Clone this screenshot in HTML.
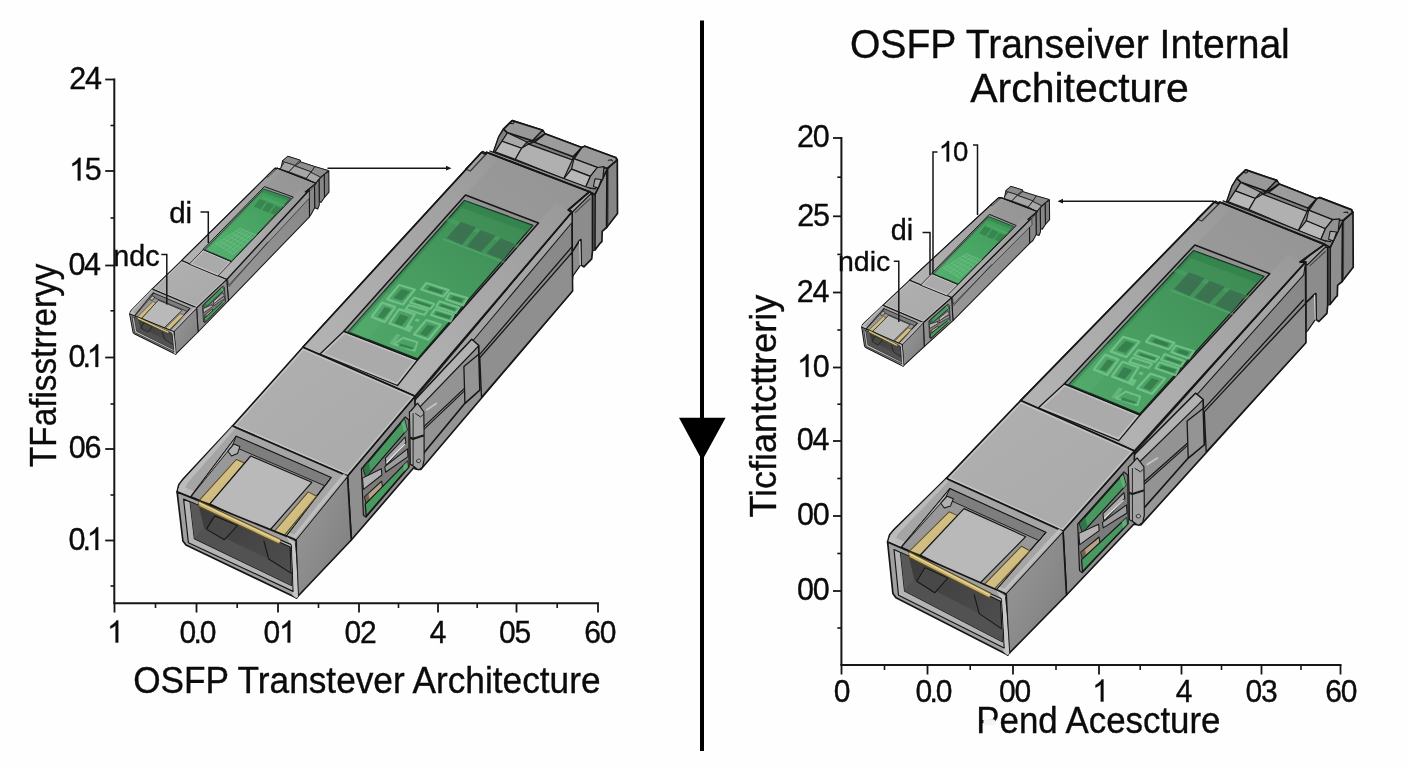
<!DOCTYPE html>
<html><head><meta charset="utf-8"><title>OSFP Transceiver Internal Architecture</title>
<style>
html,body{margin:0;padding:0;background:#fefefe;}
body{width:1408px;height:768px;overflow:hidden;font-family:"Liberation Sans", sans-serif;}
svg{display:block;will-change:transform;}
text{font-family:"Liberation Sans", sans-serif;fill:#0b0b0b;stroke:#0b0b0b;stroke-width:0.35px;}
</style></head><body>
<svg width="1408" height="768" viewBox="0 0 1408 768">
<defs>

<linearGradient id="gTop" x1="0" y1="1" x2="1" y2="0"><stop offset="0" stop-color="#aeaeae"/><stop offset="0.5" stop-color="#9c9c9c"/><stop offset="1" stop-color="#949494"/></linearGradient>
<linearGradient id="gSide" x1="0" y1="1" x2="1" y2="0"><stop offset="0" stop-color="#989898"/><stop offset="1" stop-color="#878787"/></linearGradient>
<linearGradient id="gFront" x1="0" y1="0" x2="1" y2="1"><stop offset="0" stop-color="#b0b0b0"/><stop offset="1" stop-color="#a9a9a9"/></linearGradient>
<linearGradient id="gCside" x1="0" y1="0" x2="1" y2="1"><stop offset="0" stop-color="#9a9a9a"/><stop offset="1" stop-color="#7c7c7c"/></linearGradient>
<linearGradient id="gGreen" x1="0" y1="1" x2="1" y2="0"><stop offset="0" stop-color="#51a86a"/><stop offset="0.5" stop-color="#479b5f"/><stop offset="1" stop-color="#3a8751"/></linearGradient>
<linearGradient id="gGreenS" x1="0" y1="1" x2="1" y2="0"><stop offset="0" stop-color="#56b070"/><stop offset="0.5" stop-color="#4aa664"/><stop offset="1" stop-color="#3f9a58"/></linearGradient>
<linearGradient id="gFade" x1="0" y1="1" x2="1" y2="0"><stop offset="0" stop-color="#b6b6b6" stop-opacity="0.8"/><stop offset="0.55" stop-color="#b0b0b0" stop-opacity="0.55"/><stop offset="1" stop-color="#a8a8a8" stop-opacity="0.15"/></linearGradient>
<linearGradient id="gDark" x1="0" y1="0" x2="1" y2="1"><stop offset="0" stop-color="#3a3a3a"/><stop offset="1" stop-color="#505050"/></linearGradient>
<linearGradient id="gGold" x1="0" y1="0" x2="1" y2="1"><stop offset="0" stop-color="#dccb92"/><stop offset="1" stop-color="#c6b071"/></linearGradient>

</defs>
<rect width="1408" height="768" fill="#fefefe"/>
<rect x="700" y="20.5" width="4" height="730.5" fill="#000"/>
<polygon points="679,417.8 725.6,417.8 702.2,460.6" fill="#000"/>
<line x1="114.3" y1="78.6" x2="114.3" y2="603.3" stroke="#161616" stroke-width="2.00"/>
<line x1="113.3" y1="603.3" x2="599.0" y2="603.3" stroke="#161616" stroke-width="2.00"/>
<line x1="105.2" y1="79.5" x2="114.3" y2="79.5" stroke="#161616" stroke-width="1.80"/>
<g transform="translate(69.29 88.90) scale(1 1.030)"><text x="0.00" y="0" font-size="30.5">2</text><text x="15.74" y="0" font-size="30.5">4</text></g>
<line x1="105.2" y1="171.0" x2="114.3" y2="171.0" stroke="#161616" stroke-width="1.80"/>
<g transform="translate(69.09 180.40) scale(1 1.030)"><path d="M763 0H583V1147Q518 1085 412.5 1023T223 930V1104Q373 1174.5 485.5 1275T645 1470H763Z" transform="translate(0.00 0) scale(0.01489 -0.01489)" fill="#0b0b0b" stroke="#0b0b0b" stroke-width="0.35" vector-effect="non-scaling-stroke"/><text x="15.74" y="0" font-size="30.5">5</text></g>
<line x1="105.2" y1="265.5" x2="114.3" y2="265.5" stroke="#161616" stroke-width="1.80"/>
<g transform="translate(68.39 274.90) scale(1 1.030)"><text x="0.00" y="0" font-size="30.5">0</text><text x="15.74" y="0" font-size="30.5">4</text></g>
<line x1="105.2" y1="357.5" x2="114.3" y2="357.5" stroke="#161616" stroke-width="1.80"/>
<g transform="translate(68.40 366.90) scale(1 1.030)"><text x="0.00" y="0" font-size="30.5">0</text><text x="14.11" y="0" font-size="30.5">.</text><path d="M763 0H583V1147Q518 1085 412.5 1023T223 930V1104Q373 1174.5 485.5 1275T645 1470H763Z" transform="translate(18.42 0) scale(0.01489 -0.01489)" fill="#0b0b0b" stroke="#0b0b0b" stroke-width="0.35" vector-effect="non-scaling-stroke"/></g>
<line x1="105.2" y1="449.0" x2="114.3" y2="449.0" stroke="#161616" stroke-width="1.80"/>
<g transform="translate(68.85 458.40) scale(1 1.030)"><text x="0.00" y="0" font-size="30.5">0</text><text x="15.74" y="0" font-size="30.5">6</text></g>
<line x1="105.2" y1="540.5" x2="114.3" y2="540.5" stroke="#161616" stroke-width="1.80"/>
<g transform="translate(68.40 549.90) scale(1 1.030)"><text x="0.00" y="0" font-size="30.5">0</text><text x="14.11" y="0" font-size="30.5">.</text><path d="M763 0H583V1147Q518 1085 412.5 1023T223 930V1104Q373 1174.5 485.5 1275T645 1470H763Z" transform="translate(18.42 0) scale(0.01489 -0.01489)" fill="#0b0b0b" stroke="#0b0b0b" stroke-width="0.35" vector-effect="non-scaling-stroke"/></g>
<line x1="110.5" y1="125.5" x2="114.3" y2="125.5" stroke="#161616" stroke-width="1.60"/>
<line x1="110.5" y1="218.0" x2="114.3" y2="218.0" stroke="#161616" stroke-width="1.60"/>
<line x1="110.5" y1="310.8" x2="114.3" y2="310.8" stroke="#161616" stroke-width="1.60"/>
<line x1="110.5" y1="404.0" x2="114.3" y2="404.0" stroke="#161616" stroke-width="1.60"/>
<line x1="110.5" y1="495.0" x2="114.3" y2="495.0" stroke="#161616" stroke-width="1.60"/>
<line x1="110.5" y1="586.0" x2="114.3" y2="586.0" stroke="#161616" stroke-width="1.60"/>
<line x1="114.5" y1="603.3" x2="114.5" y2="612.5" stroke="#161616" stroke-width="1.80"/>
<g transform="translate(107.07 642.60) scale(1 1.030)"><path d="M763 0H583V1147Q518 1085 412.5 1023T223 930V1104Q373 1174.5 485.5 1275T645 1470H763Z" transform="translate(0.00 0) scale(0.01465 -0.01465)" fill="#0b0b0b" stroke="#0b0b0b" stroke-width="0.35" vector-effect="non-scaling-stroke"/></g>
<line x1="196.5" y1="603.3" x2="196.5" y2="612.5" stroke="#161616" stroke-width="1.80"/>
<g transform="translate(179.55 642.60) scale(1 1.030)"><text x="0.00" y="0" font-size="30.0">0</text><text x="13.88" y="0" font-size="30.0">.</text><text x="20.22" y="0" font-size="30.0">0</text></g>
<line x1="278.0" y1="603.3" x2="278.0" y2="612.5" stroke="#161616" stroke-width="1.80"/>
<g transform="translate(263.58 642.60) scale(1 1.030)"><text x="0.00" y="0" font-size="30.0">0</text><path d="M763 0H583V1147Q518 1085 412.5 1023T223 930V1104Q373 1174.5 485.5 1275T645 1470H763Z" transform="translate(15.48 0) scale(0.01465 -0.01465)" fill="#0b0b0b" stroke="#0b0b0b" stroke-width="0.35" vector-effect="non-scaling-stroke"/></g>
<line x1="359.0" y1="603.3" x2="359.0" y2="612.5" stroke="#161616" stroke-width="1.80"/>
<g transform="translate(344.58 642.60) scale(1 1.030)"><text x="0.00" y="0" font-size="30.0">0</text><text x="15.48" y="0" font-size="30.0">2</text></g>
<line x1="438.0" y1="603.3" x2="438.0" y2="612.5" stroke="#161616" stroke-width="1.80"/>
<g transform="translate(429.75 642.60) scale(1 1.030)"><text x="0.00" y="0" font-size="30.0">4</text></g>
<line x1="516.5" y1="603.3" x2="516.5" y2="612.5" stroke="#161616" stroke-width="1.80"/>
<g transform="translate(498.96 642.60) scale(1 1.030)"><text x="0.00" y="0" font-size="30.0">0</text><text x="15.48" y="0" font-size="30.0">5</text></g>
<line x1="598.0" y1="603.3" x2="598.0" y2="612.5" stroke="#161616" stroke-width="1.80"/>
<g transform="translate(584.24 642.60) scale(1 1.030)"><text x="0.00" y="0" font-size="30.0">6</text><text x="15.48" y="0" font-size="30.0">0</text></g>
<line x1="155.5" y1="603.3" x2="155.5" y2="608.0" stroke="#161616" stroke-width="1.60"/>
<line x1="237.2" y1="603.3" x2="237.2" y2="608.0" stroke="#161616" stroke-width="1.60"/>
<line x1="318.5" y1="603.3" x2="318.5" y2="608.0" stroke="#161616" stroke-width="1.60"/>
<line x1="398.5" y1="603.3" x2="398.5" y2="608.0" stroke="#161616" stroke-width="1.60"/>
<line x1="477.2" y1="603.3" x2="477.2" y2="608.0" stroke="#161616" stroke-width="1.60"/>
<line x1="557.2" y1="603.3" x2="557.2" y2="608.0" stroke="#161616" stroke-width="1.60"/>
<text x="133.2" y="692.5" font-size="37.0" text-anchor="start" textLength="467.3" lengthAdjust="spacingAndGlyphs" >OSFP Transtever Architecture</text>
<text x="55.5" y="467.0" font-size="36.6" text-anchor="start" textLength="203.5" lengthAdjust="spacingAndGlyphs" transform="rotate(-90 55.5 467.0)" >TFafisstrreryy</text>
<line x1="841.4" y1="137.1" x2="841.4" y2="665.0" stroke="#161616" stroke-width="2.00"/>
<line x1="840.4" y1="665.0" x2="1341.5" y2="665.0" stroke="#161616" stroke-width="2.00"/>
<line x1="833.0" y1="138.0" x2="841.4" y2="138.0" stroke="#161616" stroke-width="1.80"/>
<g transform="translate(797.09 147.40) scale(1 1.030)"><text x="0.00" y="0" font-size="30.5">2</text><text x="15.74" y="0" font-size="30.5">0</text></g>
<line x1="833.0" y1="216.3" x2="841.4" y2="216.3" stroke="#161616" stroke-width="1.80"/>
<g transform="translate(797.19 225.70) scale(1 1.030)"><text x="0.00" y="0" font-size="30.5">2</text><text x="15.74" y="0" font-size="30.5">5</text></g>
<line x1="833.0" y1="292.5" x2="841.4" y2="292.5" stroke="#161616" stroke-width="1.80"/>
<g transform="translate(796.79 301.90) scale(1 1.030)"><text x="0.00" y="0" font-size="30.5">2</text><text x="15.74" y="0" font-size="30.5">4</text></g>
<line x1="833.0" y1="367.5" x2="841.4" y2="367.5" stroke="#161616" stroke-width="1.80"/>
<g transform="translate(797.09 376.90) scale(1 1.030)"><path d="M763 0H583V1147Q518 1085 412.5 1023T223 930V1104Q373 1174.5 485.5 1275T645 1470H763Z" transform="translate(0.00 0) scale(0.01489 -0.01489)" fill="#0b0b0b" stroke="#0b0b0b" stroke-width="0.35" vector-effect="non-scaling-stroke"/><text x="15.74" y="0" font-size="30.5">0</text></g>
<line x1="833.0" y1="441.0" x2="841.4" y2="441.0" stroke="#161616" stroke-width="1.80"/>
<g transform="translate(796.79 450.40) scale(1 1.030)"><text x="0.00" y="0" font-size="30.5">0</text><text x="15.74" y="0" font-size="30.5">4</text></g>
<line x1="833.0" y1="516.0" x2="841.4" y2="516.0" stroke="#161616" stroke-width="1.80"/>
<g transform="translate(797.09 525.40) scale(1 1.030)"><text x="0.00" y="0" font-size="30.5">0</text><text x="15.74" y="0" font-size="30.5">0</text></g>
<line x1="833.0" y1="591.0" x2="841.4" y2="591.0" stroke="#161616" stroke-width="1.80"/>
<g transform="translate(797.09 600.40) scale(1 1.030)"><text x="0.00" y="0" font-size="30.5">0</text><text x="15.74" y="0" font-size="30.5">0</text></g>
<line x1="837.3" y1="177.2" x2="841.4" y2="177.2" stroke="#161616" stroke-width="1.60"/>
<line x1="837.3" y1="254.4" x2="841.4" y2="254.4" stroke="#161616" stroke-width="1.60"/>
<line x1="837.3" y1="330.0" x2="841.4" y2="330.0" stroke="#161616" stroke-width="1.60"/>
<line x1="837.3" y1="404.2" x2="841.4" y2="404.2" stroke="#161616" stroke-width="1.60"/>
<line x1="837.3" y1="478.5" x2="841.4" y2="478.5" stroke="#161616" stroke-width="1.60"/>
<line x1="837.3" y1="553.5" x2="841.4" y2="553.5" stroke="#161616" stroke-width="1.60"/>
<line x1="837.3" y1="628.0" x2="841.4" y2="628.0" stroke="#161616" stroke-width="1.60"/>
<line x1="841.5" y1="665.0" x2="841.5" y2="674.5" stroke="#161616" stroke-width="1.80"/>
<g transform="translate(833.66 701.60) scale(1 1.030)"><text x="0.00" y="0" font-size="30.0">0</text></g>
<line x1="927.5" y1="665.0" x2="927.5" y2="674.5" stroke="#161616" stroke-width="1.80"/>
<g transform="translate(915.55 701.60) scale(1 1.030)"><text x="0.00" y="0" font-size="30.0">0</text><text x="13.88" y="0" font-size="30.0">.</text><text x="20.22" y="0" font-size="30.0">0</text></g>
<line x1="1013.0" y1="665.0" x2="1013.0" y2="674.5" stroke="#161616" stroke-width="1.80"/>
<g transform="translate(998.92 701.60) scale(1 1.030)"><text x="0.00" y="0" font-size="30.0">0</text><text x="15.48" y="0" font-size="30.0">0</text></g>
<line x1="1099.0" y1="665.0" x2="1099.0" y2="674.5" stroke="#161616" stroke-width="1.80"/>
<g transform="translate(1092.27 701.60) scale(1 1.030)"><path d="M763 0H583V1147Q518 1085 412.5 1023T223 930V1104Q373 1174.5 485.5 1275T645 1470H763Z" transform="translate(0.00 0) scale(0.01465 -0.01465)" fill="#0b0b0b" stroke="#0b0b0b" stroke-width="0.35" vector-effect="non-scaling-stroke"/></g>
<line x1="1181.5" y1="665.0" x2="1181.5" y2="674.5" stroke="#161616" stroke-width="1.80"/>
<g transform="translate(1175.75 701.60) scale(1 1.030)"><text x="0.00" y="0" font-size="30.0">4</text></g>
<line x1="1261.5" y1="665.0" x2="1261.5" y2="674.5" stroke="#161616" stroke-width="1.80"/>
<g transform="translate(1245.49 701.60) scale(1 1.030)"><text x="0.00" y="0" font-size="30.0">0</text><text x="15.48" y="0" font-size="30.0">3</text></g>
<line x1="1340.5" y1="665.0" x2="1340.5" y2="674.5" stroke="#161616" stroke-width="1.80"/>
<g transform="translate(1325.24 701.60) scale(1 1.030)"><text x="0.00" y="0" font-size="30.0">6</text><text x="15.48" y="0" font-size="30.0">0</text></g>
<line x1="884.5" y1="665.0" x2="884.5" y2="670.0" stroke="#161616" stroke-width="1.60"/>
<line x1="970.2" y1="665.0" x2="970.2" y2="670.0" stroke="#161616" stroke-width="1.60"/>
<line x1="1056.0" y1="665.0" x2="1056.0" y2="670.0" stroke="#161616" stroke-width="1.60"/>
<line x1="1140.2" y1="665.0" x2="1140.2" y2="670.0" stroke="#161616" stroke-width="1.60"/>
<line x1="1221.5" y1="665.0" x2="1221.5" y2="670.0" stroke="#161616" stroke-width="1.60"/>
<line x1="1301.0" y1="665.0" x2="1301.0" y2="670.0" stroke="#161616" stroke-width="1.60"/>
<text x="976.3" y="732.5" font-size="36.5" text-anchor="start" textLength="244.2" lengthAdjust="spacingAndGlyphs" >Pend Acescture</text>
<rect x="983.4" y="719.3" width="11.8" height="6" rx="2" fill="#f3f3f3"/>
<text x="775.7" y="517.6" font-size="36.3" text-anchor="start" textLength="222.8" lengthAdjust="spacingAndGlyphs" transform="rotate(-90 775.7 517.6)" >Ticfiantcttreriy</text>
<text x="850.0" y="58.4" font-size="40.7" text-anchor="start" textLength="439.8" lengthAdjust="spacingAndGlyphs" >OSFP Transeiver Internal</text>
<text x="970.2" y="102.2" font-size="41.2" text-anchor="start" textLength="218.6" lengthAdjust="spacingAndGlyphs" >Architecture</text>
<!-- module SL -->
<g stroke-linejoin="round" stroke-linecap="round">
<polygon points="324.2,174.1 328.8,171.0 329.0,192.1 324.5,197.3" fill="#7d7d7d" stroke="#161616" stroke-width="1.05"/>
<polygon points="319.0,179.1 324.2,174.1 324.5,197.3 321.0,202.5 319.3,201.2" fill="#868686" stroke="#161616" stroke-width="1.05"/>
<polygon points="314.5,184.0 319.0,179.1 319.3,205.1 317.7,209.0 314.7,207.7" fill="#7e7e7e" stroke="#161616" stroke-width="1.05"/>
<polygon points="309.2,189.8 314.5,184.0 314.7,207.7 311.2,214.2 309.5,216.8" fill="#878787" stroke="#161616" stroke-width="1.05"/>
<polygon points="307.3,190.1 314.5,183.6 315.4,184.9 309.6,191.0" fill="#a2a2a2" stroke="#161616" stroke-width="0.60"/>
<polygon points="280.6,169.3 282.6,160.8 287.8,156.3 300.1,160.2 300.8,162.1 315.1,166.7 328.1,170.6 328.8,171.2 324.2,174.1 319.0,179.1 315.1,183.6 278.0,168.6" fill="#7c7c7c" stroke="#161616" stroke-width="1.05"/>
<polygon points="282.6,160.8 287.8,156.3 300.1,160.2 294.9,165.4 284.5,162.1" fill="#8c8c8c" stroke="#161616" stroke-width="0.73"/>
<polygon points="281.9,166.0 284.5,162.1 294.9,165.4 289.1,171.9 280.6,169.3" fill="#a6a6a6" stroke="#161616" stroke-width="0.73"/>
<polygon points="300.8,162.1 315.1,166.7 311.2,171.9 295.6,166.0" fill="#909090" stroke="#161616" stroke-width="0.73"/>
<polygon points="294.9,166.0 311.2,171.9 306.6,178.4 289.1,171.9" fill="#a6a6a6" stroke="#161616" stroke-width="0.73"/>
<polygon points="315.1,166.7 328.1,170.6 324.2,174.1 320.3,177.1 311.2,172.6" fill="#8d8d8d" stroke="#161616" stroke-width="0.73"/>
<polygon points="311.2,172.6 320.3,177.1 315.1,183.6 306.6,178.4" fill="#a8a8a8" stroke="#161616" stroke-width="0.73"/>
<polygon points="226.7,279.4 309.2,189.8 309.5,216.8 228.5,300.6" fill="url(#gSide)" stroke="#161616" stroke-width="1.05"/>
<polygon points="227.9,278.8 309.2,190.8 309.4,198.1 228.7,285.0" fill="#9a9a9a" stroke="#161616" stroke-width="0.60"/>
<polyline points="228.8,286.7 267.9,241.9" fill="none" stroke="#161616" stroke-width="0.60"/>
<polygon points="196.6,307.8 226.7,279.4 228.5,300.6 198.1,332.0" fill="#8f8f8f" stroke="#161616" stroke-width="1.05"/>
<polygon points="202.8,305.3 222.5,286.3 224.3,287.1 225.5,301.6 205.1,322.6 203.9,322.1" fill="#7b7b7b" stroke="#161616" stroke-width="0.73"/>
<polygon points="203.5,305.1 222.2,287.1 223.8,290.2 205.0,308.3" fill="#47995f" stroke="#161616" stroke-width="0.73"/>
<polygon points="203.5,305.1 206.0,302.7 207.1,306.2 205.0,308.3" fill="#2f6a43" opacity="0.8"/>
<polygon points="220.8,288.5 222.2,287.1 223.8,290.2 222.5,291.5" fill="#6ab982" opacity="0.7"/>
<polygon points="203.4,308.6 212.0,304.7 212.4,306.8 203.8,312.7" fill="#b2b2b2" stroke="#161616" stroke-width="0.64"/>
<polygon points="213.8,300.9 222.9,292.7 223.4,294.3 214.4,303.3" fill="#a9a9a9" stroke="#161616" stroke-width="0.64"/>
<polygon points="213.7,303.8 224.3,296.1 224.7,298.5 214.1,305.6" fill="#9c9c9c" stroke="#161616" stroke-width="0.64"/>
<polyline points="214.6,302.3 222.7,295.1" fill="none" stroke="#e4e4e4" stroke-width="0.81"/>
<polygon points="204.3,315.4 212.4,308.9 212.8,311.0 205.1,317.7" fill="#b7a287" stroke="#161616" stroke-width="0.64"/>
<polygon points="204.3,315.4 206.2,314.0 206.8,316.2 205.1,317.7" fill="#5a4a38" opacity="0.7"/>
<polygon points="204.7,318.0 224.6,300.0 225.1,301.9 205.2,322.2" fill="#47995f" stroke="#161616" stroke-width="0.73"/>
<polygon points="222.5,301.9 224.6,300.0 225.1,301.9 223.3,303.6" fill="#6ab982" opacity="0.7"/>
<polygon points="181.5,260.6 226.7,279.4 309.2,189.8 305.3,191.9 316.0,183.3 276.9,168.1 276.1,168.9 274.8,168.3" fill="url(#gTop)" stroke="#161616" stroke-width="1.05"/>
<polygon points="266.6,176.2 275.4,167.8 276.8,168.6 268.3,176.9" fill="#a0a0a0" stroke="#161616" stroke-width="0.81"/>
<polygon points="218.0,275.8 231.5,261.7 293.3,197.1 300.8,189.0 305.3,191.9 309.2,189.8 226.7,279.4" fill="url(#gFade)"/>
<polygon points="181.5,260.6 189.4,263.9 203.3,249.6 264.8,186.7 280.4,171.3 276.1,168.9 274.8,168.3" fill="url(#gFade)"/>
<polygon points="181.5,260.6 226.7,279.4 309.2,189.8 305.3,191.9 316.0,183.3 276.9,168.1 276.1,168.9 274.8,168.3" fill="none" stroke="#161616" stroke-width="1.05"/>
<polygon points="152.0,289.1 196.6,307.8 226.7,279.4 181.5,260.6" fill="url(#gFront)"/>
<clipPath id="SL_c33"><polygon points="152.0,289.1 196.6,307.8 226.7,279.4 181.5,260.6"/></clipPath>
<polygon points="152.0,289.1 196.6,307.8 226.7,279.4 181.5,260.6" fill="none" stroke="#cacaca" stroke-width="3.10" clip-path="url(#SL_c33)" opacity="0.75"/>
<polygon points="152.0,289.1 196.6,307.8 226.7,279.4 181.5,260.6" fill="none" stroke="#161616" stroke-width="1.05"/>
<polygon points="189.4,263.9 203.3,249.6 231.5,261.7 218.0,275.8" fill="#aaaaaa"/>
<clipPath id="SL_c37"><polygon points="189.4,263.9 203.3,249.6 231.5,261.7 218.0,275.8"/></clipPath>
<polygon points="189.4,263.9 203.3,249.6 231.5,261.7 218.0,275.8" fill="none" stroke="#c8c8c8" stroke-width="3.10" clip-path="url(#SL_c37)" opacity="0.75"/>
<polygon points="189.4,263.9 203.3,249.6 231.5,261.7 218.0,275.8" fill="none" stroke="#161616" stroke-width="0.81"/>
<polygon points="203.3,249.6 231.5,261.7 293.3,197.1 264.8,186.7" fill="#929292" stroke="#161616" stroke-width="0.97"/>
<polygon points="205.1,249.8 231.6,261.2 290.8,198.3 264.0,189.1" fill="url(#gGreenS)" stroke="#14261a" stroke-width="0.81"/>
<polygon points="205.1,249.8 212.7,253.1 230.2,234.2 223.0,231.3" fill="#58b373" opacity="0.3"/>
<polygon points="264.0,189.1 290.8,198.3 288.0,201.3 261.2,192.0" fill="#2a7a45" opacity="0.45"/>
<polygon points="205.1,249.8 206.2,250.3 265.2,189.4 264.0,189.1" fill="#2a7a45" opacity="0.45"/>
<polygon points="259.6,199.0 266.4,201.4 260.6,209.3 253.8,206.6" fill="#2e7446" opacity="0.6"/>
<polygon points="267.6,202.3 274.3,204.9 268.4,212.5 262.1,210.0" fill="#2e7446" opacity="0.6"/>
<polygon points="275.5,205.7 281.9,208.2 276.1,215.2 269.8,212.7" fill="#2e7446" opacity="0.6"/>
<polygon points="262.7,196.6 285.1,205.1 283.9,206.8 261.5,198.3" fill="#58b473" opacity="0.45"/>
<polyline points="216.2,243.9 240.0,228.4" fill="none" stroke="#72c389" stroke-width="1.05" opacity="0.6"/>
<polyline points="219.5,246.0 243.2,229.6" fill="none" stroke="#72c389" stroke-width="1.05" opacity="0.6"/>
<polyline points="222.8,248.1 246.4,230.9" fill="none" stroke="#72c389" stroke-width="1.05" opacity="0.6"/>
<polyline points="226.1,250.1 249.6,232.2" fill="none" stroke="#72c389" stroke-width="1.05" opacity="0.6"/>
<polyline points="229.4,252.2 252.8,233.5" fill="none" stroke="#72c389" stroke-width="1.05" opacity="0.6"/>
<polyline points="232.7,254.3 256.0,234.7" fill="none" stroke="#72c389" stroke-width="1.05" opacity="0.6"/>
<polyline points="216.2,243.9 232.7,254.3" fill="none" stroke="#72c389" stroke-width="1.05" opacity="0.6"/>
<polyline points="220.2,241.3 236.6,251.0" fill="none" stroke="#72c389" stroke-width="1.05" opacity="0.6"/>
<polyline points="224.1,238.7 240.5,247.8" fill="none" stroke="#72c389" stroke-width="1.05" opacity="0.6"/>
<polyline points="228.1,236.1 244.3,244.5" fill="none" stroke="#72c389" stroke-width="1.05" opacity="0.6"/>
<polyline points="232.1,233.5 248.2,241.3" fill="none" stroke="#72c389" stroke-width="1.05" opacity="0.6"/>
<polyline points="236.1,231.0 252.1,238.0" fill="none" stroke="#72c389" stroke-width="1.05" opacity="0.6"/>
<polyline points="240.0,228.4 256.0,234.7" fill="none" stroke="#72c389" stroke-width="1.05" opacity="0.6"/>
<polygon points="216.2,243.9 232.7,254.3 256.0,234.7 240.0,228.4" fill="#5ab877" opacity="0.25"/>
<polygon points="173.9,331.3 196.6,307.8 198.1,332.0 175.5,354.4" fill="url(#gCside)" stroke="#161616" stroke-width="1.05"/>
<polygon points="129.7,314.1 130.5,311.4 132.0,309.5 152.0,289.1 196.6,307.8 174.0,331.0 172.7,330.7" fill="#a5a5a5" stroke="#161616" stroke-width="1.05"/>
<polygon points="129.9,313.9 131.0,311.5 173.3,329.5 174.0,331.2 172.6,330.9" fill="#bdbdbd" opacity="0.9"/>
<polygon points="130.1,313.3 131.0,311.2 132.3,309.5 151.9,289.3 153.0,290.1 133.9,310.6 132.7,312.6 132.3,314.4" fill="#bebebe" opacity="0.9"/>
<polygon points="153.4,293.0 189.9,308.4 169.9,330.4 134.8,315.8" fill="#989898" stroke="#161616" stroke-width="0.81"/>
<polygon points="153.4,293.0 189.9,308.4 187.3,311.5 151.7,296.6" fill="#7e7e7e" stroke="#161616" stroke-width="0.60"/>
<polygon points="153.4,293.0 151.7,296.6 136.5,314.0 134.8,315.8" fill="#b0b0b0" stroke="#161616" stroke-width="0.60"/>
<polygon points="187.3,311.5 189.9,308.4 169.9,330.4 167.9,331.5" fill="#a8a8a8" stroke="#161616" stroke-width="0.60"/>
<polygon points="153.1,301.7 156.3,303.0 142.0,318.4 137.9,317.1" fill="url(#gGold)" stroke="#5a4c22" stroke-width="0.64"/>
<polygon points="180.5,313.7 183.6,315.3 167.9,331.5 164.4,329.7" fill="url(#gGold)" stroke="#5a4c22" stroke-width="0.64"/>
<polygon points="158.7,300.3 182.2,310.1 163.6,328.4 142.0,318.4" fill="#b9b9b9" stroke="#161616" stroke-width="0.73"/>
<polygon points="149.9,298.6 152.4,295.9 154.7,296.8 153.6,299.5 151.3,300.4" fill="#b0b0b0" stroke="#161616" stroke-width="0.64"/>
<polygon points="174.1,331.1 196.5,307.9 195.1,306.8 172.7,330.2" fill="#c2c2c2" opacity="0.85"/>
<polygon points="129.7,314.1 173.1,331.2 174.0,331.9 175.6,354.3 134.2,333.7 133.0,332.1" fill="#a0a0a0" stroke="#161616" stroke-width="1.05"/>
<polygon points="170.5,330.3 173.6,332.5 176.1,353.8 175.5,354.3 174.0,353.3 172.2,333.9" fill="#c4c4c4" opacity="0.9"/>
<polygon points="132.2,316.7 172.4,333.4 174.2,351.8 135.0,332.8" fill="#b4b4b4" stroke="#161616" stroke-width="0.73"/>
<polygon points="134.7,317.8 172.0,334.3 173.4,349.4 137.1,331.4" fill="url(#gDark)" stroke="#161616" stroke-width="0.73"/>
<polygon points="134.7,317.8 137.9,319.2 140.3,327.4 137.1,331.4" fill="#585858"/>
<polygon points="137.1,331.4 140.3,327.4 164.5,339.2 173.1,344.7 173.4,349.4" fill="#525252"/>
<polygon points="141.2,327.8 143.9,322.9 152.4,326.4 148.0,331.9" fill="#484848" stroke="#161616" stroke-width="0.64"/>
<polyline points="162.3,332.2 164.5,339.2 173.1,344.7" fill="none" stroke="#161616" stroke-width="0.64"/>
<polygon points="137.8,317.4 168.4,331.4 168.0,333.3 137.9,319.3" fill="#c6b071" stroke="#5a4c22" stroke-width="0.64"/>
<polyline points="138.0,318.1 168.1,332.2" fill="none" stroke="#e6d596" stroke-width="0.81"/>
<polygon points="171.6,331.4 173.8,332.7 176.2,353.8 175.6,354.3 174.7,353.7 172.6,333.9" fill="#c6c6c6"/>
<polyline points="173.8,332.8 174.8,339.0 176.3,353.7" fill="none" stroke="#161616" stroke-width="0.60"/>
</g>
<!-- module BL -->
<g stroke-linejoin="round" stroke-linecap="round">
<polygon points="607.0,167.8 617.3,159.5 617.5,213.4 606.6,227.5" fill="#858585" stroke="#161616" stroke-width="1.69"/>
<polyline points="608.2,168.0 608.0,225.0" fill="none" stroke="#3a3a3a" stroke-width="0.91"/>
<polygon points="595.0,194.4 607.0,167.8 606.6,227.5 602.2,231.4 601.9,241.6 600.3,243.1 594.8,250.2" fill="#8e8e8e" stroke="#161616" stroke-width="1.69"/>
<polygon points="592.5,194.7 595.0,194.4 594.8,250.2 592.5,250.9" fill="#5e5e5e" stroke="#161616" stroke-width="0.91"/>
<polygon points="571.9,212.0 590.2,193.9 592.5,194.7 592.5,250.9 591.7,258.8 583.9,266.9 581.2,265.0 580.9,239.7 579.7,240.3 572.2,252.3" fill="#8c8c8c" stroke="#161616" stroke-width="1.69"/>
<polygon points="568.3,208.7 587.8,190.8 591.3,193.4 572.5,211.9" fill="#a4a4a4" stroke="#161616" stroke-width="1.17"/>
<polyline points="575.3,212.7 590.2,198.6" fill="none" stroke="#444" stroke-width="1.04"/>
<polygon points="572.2,252.3 579.7,240.9 580.3,265.3 573.0,275.9 572.4,281.1" fill="#8d8d8d" stroke="#161616" stroke-width="1.17"/>
<polyline points="579.7,241.6 580.2,264.7" fill="none" stroke="#d8d8d8" stroke-width="1.30"/>
<polygon points="493.4,152.2 498.9,136.6 503.6,128.8 512.2,120.6 542.7,130.3 545.0,133.8 581.7,147.5 584.8,146.2 616.1,157.7 616.9,160.0 607.5,168.6 595.0,194.4 588.8,191.3" fill="#888888" stroke="#161616" stroke-width="1.69"/>
<polygon points="493.4,152.2 498.9,136.6 503.6,129.1 507.5,132.8 502.0,141.2 495.0,151.9" fill="#818181" stroke="#161616" stroke-width="1.04"/>
<polygon points="503.6,129.1 512.2,120.6 542.7,130.3 532.5,140.9 507.5,132.8" fill="#989898" stroke="#161616" stroke-width="1.69"/>
<polygon points="532.5,140.9 542.7,130.3 545.0,133.8 528.6,144.1 527.0,142.0" fill="#797979" stroke="#161616" stroke-width="1.04"/>
<polygon points="507.5,132.8 527.0,142.0 521.6,148.3 502.0,141.2" fill="#a8a8a8" stroke="#161616" stroke-width="1.17"/>
<polygon points="502.0,141.2 521.6,148.3 515.3,159.2 495.0,151.9" fill="#b8b8b8" stroke="#161616" stroke-width="1.17"/>
<polygon points="545.0,133.8 581.7,147.5 573.1,156.9 534.1,142.3" fill="#9c9c9c" stroke="#161616" stroke-width="1.69"/>
<polygon points="534.1,142.3 573.1,156.9 572.3,160.0 528.6,144.1" fill="#808080" stroke="#161616" stroke-width="1.04"/>
<polygon points="528.6,144.1 572.3,160.0 563.7,178.8 515.3,159.2 521.6,148.3" fill="#b0b0b0" stroke="#161616" stroke-width="1.17"/>
<polygon points="581.7,147.5 584.8,146.2 616.1,157.7 616.6,160.3 607.5,168.1 597.3,167.5 573.9,158.7" fill="#999999" stroke="#161616" stroke-width="1.69"/>
<polygon points="573.9,158.7 597.3,167.5 590.3,176.4 571.6,169.1" fill="#aaaaaa" stroke="#161616" stroke-width="1.17"/>
<polygon points="571.6,169.1 590.3,176.4 585.6,187.3 563.7,178.8" fill="#b8b8b8" stroke="#161616" stroke-width="1.17"/>
<polygon points="597.3,167.5 604.1,166.6 602.8,178.8 595.0,188.9 585.6,187.3 590.3,176.4" fill="#929292" stroke="#161616" stroke-width="1.17"/>
<polygon points="595.0,178.8 601.3,179.5 598.1,188.1 593.4,186.6" fill="#a8a8a8" stroke="#161616" stroke-width="1.04"/>
<polyline points="509.8,123.3 513.0,123.8 514.1,122.2" fill="none" stroke="#161616" stroke-width="1.04"/>
<polyline points="608.3,160.3 611.4,159.7 612.5,160.9" fill="none" stroke="#161616" stroke-width="1.04"/>
<polygon points="487.5,153.1 490.0,150.9 590.6,188.6 589.1,191.2" fill="#8e8e8e"/>
<polyline points="490.0,150.9 590.6,188.6" fill="none" stroke="#161616" stroke-width="1.04"/>
<polygon points="415.0,396.3 571.9,212.0 572.4,281.1 572.5,291.0 420.8,469.5 415.0,469.0" fill="url(#gSide)" stroke="#161616" stroke-width="1.69"/>
<polygon points="416.0,397.5 571.9,212.0 572.0,222.5 479.0,333.5 418.5,405.0" fill="#a4a4a4" stroke="#161616" stroke-width="1.04"/>
<polygon points="479.8,357.8 572.2,252.3 572.4,281.1 572.5,291.0 481.5,397.2" fill="#8f8f8f" stroke="#161616" stroke-width="1.30"/>
<polyline points="479.7,354.3 571.6,247.2" fill="none" stroke="#161616" stroke-width="1.30"/>
<polygon points="411.1,406.2 416.1,398.8 471.8,339.4 478.7,345.6 479.7,390.1 464.9,403.3 414.9,463.7 411.9,461.9" fill="#939393" stroke="#161616" stroke-width="1.69"/>
<polygon points="411.1,406.2 416.1,398.8 471.8,339.4 478.7,345.6 474.3,350.5 417.8,409.2" fill="#b2b2b2" stroke="#161616" stroke-width="1.17"/>
<polygon points="463.9,366.6 478.7,354.3 479.7,390.1 464.9,403.3" fill="#949494" stroke="#161616" stroke-width="1.30"/>
<polyline points="413.6,436.4 463.9,388.9" fill="none" stroke="#161616" stroke-width="1.30"/>
<polyline points="414.4,438.4 463.9,391.4" fill="none" stroke="#161616" stroke-width="1.04"/>
<polygon points="347.5,476.0 415.0,396.3 415.0,466.3 351.3,540.0" fill="#8f8f8f" stroke="#161616" stroke-width="1.69"/>
<polygon points="361.4,468.8 405.2,416.9 408.8,420.0 409.1,466.9 366.1,517.2 363.4,515.2" fill="#7b7b7b" stroke="#161616" stroke-width="1.17"/>
<polygon points="363.0,468.3 404.4,419.1 407.2,429.7 366.1,477.3" fill="#47995f" stroke="#161616" stroke-width="1.17"/>
<polygon points="363.0,468.3 368.4,461.7 370.8,471.9 366.1,477.3" fill="#2f6a43" opacity="0.8"/>
<polygon points="401.2,422.8 404.4,419.1 407.2,429.7 404.4,433.1" fill="#6ab982" opacity="0.7"/>
<polygon points="362.5,478.1 381.3,468.8 381.9,475.0 363.4,489.4" fill="#b2b2b2" stroke="#161616" stroke-width="1.04"/>
<polygon points="385.3,458.1 405.2,437.0 405.9,442.5 386.2,465.6" fill="#a9a9a9" stroke="#161616" stroke-width="1.04"/>
<polygon points="384.8,466.7 407.5,448.8 408.0,456.6 385.6,472.2" fill="#9c9c9c" stroke="#161616" stroke-width="1.04"/>
<polyline points="386.9,462.5 404.4,444.5" fill="none" stroke="#e4e4e4" stroke-width="1.30"/>
<polygon points="364.5,496.9 381.7,481.2 382.5,487.5 366.1,503.4" fill="#b7a287" stroke="#161616" stroke-width="1.04"/>
<polygon points="364.5,496.9 368.4,493.4 369.7,500.0 366.1,503.4" fill="#5a4a38" opacity="0.7"/>
<polygon points="365.3,504.2 407.5,461.2 408.1,467.5 366.2,515.9" fill="#47995f" stroke="#161616" stroke-width="1.17"/>
<polygon points="403.1,465.6 407.5,461.2 408.1,467.5 404.4,471.6" fill="#6ab982" opacity="0.7"/>
<polygon points="409.4,412.0 411.2,410.5 417.5,403.1 423.8,412.0 424.1,434.7 413.1,438.4 410.0,437.0" fill="#a6a6a6" stroke="#161616" stroke-width="1.17"/>
<polygon points="410.0,438.1 413.1,439.4 424.1,435.6 424.1,460.0 422.5,467.2 418.4,470.0 412.8,465.6 410.3,464.4" fill="#a2a2a2" stroke="#161616" stroke-width="1.17"/>
<polyline points="413.1,413.6 413.1,438.1" fill="none" stroke="#161616" stroke-width="0.91"/>
<polyline points="413.1,439.7 413.1,465.3" fill="none" stroke="#161616" stroke-width="0.91"/>
<polyline points="415.6,413.6 420.6,416.9 423.1,414.7" fill="none" stroke="#161616" stroke-width="0.91"/>
<polygon points="416.9,460.0 419.1,458.9 420.9,460.6 419.4,462.8 417.2,462.2" fill="#b4b4b4" stroke="#161616" stroke-width="0.78"/>
<polyline points="426.9,409.7 436.2,403.4" fill="none" stroke="#c4c4c4" stroke-width="1.82"/>
<polygon points="302.8,347.3 415.0,396.3 571.9,212.0 568.3,210.0 589.5,191.7 486.5,152.3 485.0,154.0 481.5,152.5" fill="url(#gTop)" stroke="#161616" stroke-width="1.69"/>
<polygon points="465.6,169.1 482.6,151.4 486.6,153.5 470.3,171.0" fill="#a0a0a0" stroke="#161616" stroke-width="1.30"/>
<polygon points="397.5,385.5 417.5,360.0 538.5,223.0 556.0,203.0 568.3,210.0 571.9,212.0 415.0,396.3" fill="url(#gFade)"/>
<polygon points="302.8,347.3 320.0,354.0 343.8,331.2 465.5,195.0 497.0,160.0 485.0,154.0 481.5,152.5" fill="url(#gFade)"/>
<polygon points="302.8,347.3 415.0,396.3 571.9,212.0 568.3,210.0 589.5,191.7 486.5,152.3 485.0,154.0 481.5,152.5" fill="none" stroke="#161616" stroke-width="1.69"/>
<polygon points="232.5,426.0 347.5,476.0 415.0,396.3 302.8,347.3" fill="url(#gFront)"/>
<clipPath id="BL_c61"><polygon points="232.5,426.0 347.5,476.0 415.0,396.3 302.8,347.3"/></clipPath>
<polygon points="232.5,426.0 347.5,476.0 415.0,396.3 302.8,347.3" fill="none" stroke="#cacaca" stroke-width="5.00" clip-path="url(#BL_c61)" opacity="0.75"/>
<polygon points="232.5,426.0 347.5,476.0 415.0,396.3 302.8,347.3" fill="none" stroke="#161616" stroke-width="1.69"/>
<polygon points="320.0,354.0 343.8,331.2 417.5,360.0 397.5,385.5" fill="#aaaaaa"/>
<clipPath id="BL_c65"><polygon points="320.0,354.0 343.8,331.2 417.5,360.0 397.5,385.5"/></clipPath>
<polygon points="320.0,354.0 343.8,331.2 417.5,360.0 397.5,385.5" fill="none" stroke="#c8c8c8" stroke-width="5.00" clip-path="url(#BL_c65)" opacity="0.75"/>
<polygon points="320.0,354.0 343.8,331.2 417.5,360.0 397.5,385.5" fill="none" stroke="#161616" stroke-width="1.30"/>
<polygon points="343.8,331.2 417.5,360.0 538.5,223.0 465.5,195.0" fill="#929292" stroke="#161616" stroke-width="1.56"/>
<polygon points="348.2,331.9 417.5,358.9 532.9,225.4 464.5,200.5" fill="url(#gGreen)" stroke="#14261a" stroke-width="1.30"/>
<polygon points="348.2,331.9 368.1,339.6 402.3,298.9 383.6,291.7" fill="#58b373" opacity="0.3"/>
<polygon points="464.5,200.5 532.9,225.4 527.6,231.7 459.1,206.8" fill="#2a7a45" opacity="0.45"/>
<polygon points="348.2,331.9 351.1,333.0 467.7,201.3 464.5,200.5" fill="#2a7a45" opacity="0.45"/>
<polygon points="446.7,217.0 520.5,245.1 518.2,248.6 444.3,220.5" fill="#4fae6b" opacity="0.35"/>
<polygon points="460.8,221.7 476.0,227.5 461.9,245.1 446.7,238.1" fill="#3b7050" opacity="0.9"/>
<polygon points="480.7,229.9 495.9,235.7 480.7,252.1 466.6,246.3" fill="#3b7050" opacity="0.9"/>
<polygon points="500.6,238.1 515.8,243.9 503.0,260.3 486.5,253.3" fill="#3b7050" opacity="0.9"/>
<polyline points="443.2,239.2 504.1,262.2" fill="none" stroke="#58b473" stroke-width="1.82" opacity="0.45"/>
<polygon points="399.1,285.0 414.7,289.5 403.0,304.5 387.3,299.3" fill="none" stroke="#72c389" stroke-width="2.34" opacity="0.9"/>
<polygon points="401.7,288.9 410.1,291.5 401.7,300.6 393.2,298.0" fill="#2e7446" opacity="0.7"/>
<polygon points="426.4,283.0 448.5,290.2 443.3,296.7 421.2,289.5" fill="none" stroke="#72c389" stroke-width="2.34" opacity="0.9"/>
<polygon points="429.7,286.3 443.3,290.8 441.4,294.1 427.1,289.5" fill="#2e7446" opacity="0.7"/>
<polygon points="449.8,292.8 467.4,298.0 462.9,305.2 445.9,299.3" fill="none" stroke="#72c389" stroke-width="2.34" opacity="0.9"/>
<polygon points="453.1,296.0 462.9,298.9 460.9,302.6 450.5,299.3" fill="#2e7446" opacity="0.7"/>
<polygon points="414.0,297.6 434.2,304.1 430.3,309.1 410.1,302.6" fill="none" stroke="#72c389" stroke-width="2.08" opacity="0.9"/>
<polygon points="416.0,300.6 431.0,305.2 429.7,307.1 414.7,302.6" fill="#2e7446" opacity="0.7"/>
<polygon points="408.8,304.9 427.7,310.6 424.5,314.9 405.6,309.1" fill="none" stroke="#72c389" stroke-width="2.08" opacity="0.9"/>
<polygon points="439.4,301.2 459.0,307.8 455.7,313.0 436.2,306.7" fill="none" stroke="#72c389" stroke-width="2.08" opacity="0.9"/>
<polygon points="441.4,304.1 455.7,308.7 454.4,310.6 440.1,306.1" fill="#2e7446" opacity="0.7"/>
<polygon points="434.9,309.1 453.7,314.9 450.5,321.4 431.0,314.9" fill="none" stroke="#72c389" stroke-width="2.08" opacity="0.9"/>
<polygon points="436.8,311.9 451.1,316.2 449.2,319.1 434.9,314.5" fill="#2e7446" opacity="0.7"/>
<polygon points="382.1,302.6 395.2,307.1 384.7,322.1 371.7,316.9" fill="none" stroke="#72c389" stroke-width="2.34" opacity="0.9"/>
<polygon points="384.7,307.1 391.2,309.1 383.4,318.8 377.6,316.9" fill="#2e7446" opacity="0.7"/>
<polygon points="399.1,309.1 414.7,314.3 405.6,329.2 389.3,323.4" fill="none" stroke="#72c389" stroke-width="2.34" opacity="0.9"/>
<polygon points="400.4,314.3 408.8,316.9 401.7,326.0 394.5,323.4" fill="#2e7446" opacity="0.7"/>
<polygon points="426.4,320.1 440.7,324.7 428.4,339.7 414.0,334.5" fill="none" stroke="#72c389" stroke-width="2.34" opacity="0.9"/>
<polygon points="427.7,324.7 434.9,326.6 426.4,336.4 419.9,333.8" fill="#2e7446" opacity="0.7"/>
<polygon points="416.0,318.2 419.9,319.5 418.6,322.1 414.7,320.8" fill="#72c389" opacity="0.85"/>
<polygon points="408.2,324.7 413.4,326.6 410.1,332.5 404.9,330.5" fill="#72c389" opacity="0.85"/>
<polygon points="396.5,333.8 400.4,335.1 393.2,344.9 389.3,343.6" fill="#72c389" opacity="0.6"/>
<polygon points="403.0,337.7 417.3,342.3 414.7,350.7 393.9,344.2" fill="none" stroke="#72c389" stroke-width="1.95" opacity="0.9"/>
<polygon points="400.4,343.6 413.4,347.5 412.1,349.7 398.4,346.2" fill="#2e7446" opacity="0.7"/>
<polygon points="296.0,539.5 347.5,476.0 351.3,540.0 296.3,598.0" fill="url(#gCside)" stroke="#161616" stroke-width="1.69"/>
<polygon points="177.1,491.9 178.8,484.7 182.4,479.9 232.5,426.0 347.5,476.0 296.2,538.6 292.6,537.9" fill="#a5a5a5" stroke="#161616" stroke-width="1.69"/>
<polygon points="177.6,491.4 180.0,485.2 293.8,534.6 296.2,539.1 292.6,538.4" fill="#bdbdbd" opacity="0.9"/>
<polygon points="178.1,490.0 180.0,484.2 183.3,479.9 232.2,426.5 235.1,428.6 187.7,482.8 184.8,488.1 183.8,492.9" fill="#bebebe" opacity="0.9"/>
<polygon points="236.3,436.3 331.0,477.5 285.4,537.0 190.8,496.7" fill="#989898" stroke="#161616" stroke-width="1.30"/>
<polygon points="236.3,436.3 331.0,477.5 325.0,485.9 232.2,445.9" fill="#7e7e7e" stroke="#161616" stroke-width="0.91"/>
<polygon points="236.3,436.3 232.2,445.9 194.8,491.9 190.8,496.7" fill="#b0b0b0" stroke="#161616" stroke-width="0.91"/>
<polygon points="325.0,485.9 331.0,477.5 285.4,537.0 280.7,539.8" fill="#a8a8a8" stroke="#161616" stroke-width="0.91"/>
<polygon points="236.3,459.5 244.7,463.1 209.9,503.9 199.2,500.3" fill="url(#gGold)" stroke="#5a4c22" stroke-width="1.04"/>
<polygon points="308.2,491.9 316.6,496.2 280.7,539.8 271.1,535.1" fill="url(#gGold)" stroke="#5a4c22" stroke-width="1.04"/>
<polygon points="250.7,456.0 311.8,482.3 268.7,531.5 209.9,503.9" fill="#b9b9b9" stroke="#161616" stroke-width="1.17"/>
<polygon points="227.9,451.2 233.9,444.0 239.9,446.4 237.5,453.6 231.5,456.0" fill="#b0b0b0" stroke="#161616" stroke-width="1.04"/>
<polygon points="296.4,539.0 347.3,476.2 343.6,473.4 292.6,536.4" fill="#c2c2c2" opacity="0.85"/>
<polygon points="177.1,491.9 293.8,539.1 296.2,541.0 296.7,597.9 186.0,545.1 182.9,541.0" fill="#a0a0a0" stroke="#161616" stroke-width="1.69"/>
<polygon points="286.7,536.7 294.9,542.4 298.0,596.6 296.2,597.9 292.3,595.3 290.7,546.0" fill="#c4c4c4" opacity="0.9"/>
<polygon points="183.6,499.1 291.4,544.6 293.1,591.4 188.4,542.7" fill="#b4b4b4" stroke="#161616" stroke-width="1.17"/>
<polygon points="190.1,502.0 290.2,547.0 291.4,585.4 194.4,538.6" fill="url(#gDark)" stroke="#161616" stroke-width="1.17"/>
<polygon points="190.1,502.0 198.7,505.8 204.0,527.9 194.4,538.6" fill="#585858"/>
<polygon points="194.4,538.6 204.0,527.9 268.7,559.0 291.4,573.4 291.4,585.4" fill="#525252"/>
<polygon points="206.4,529.1 214.7,515.9 237.5,525.5 224.3,539.8" fill="#484848" stroke="#161616" stroke-width="1.04"/>
<polyline points="263.9,541.0 268.7,559.0 291.4,573.4" fill="none" stroke="#161616" stroke-width="1.04"/>
<polygon points="198.7,501.0 280.7,539.4 279.5,544.2 198.7,506.3" fill="#c6b071" stroke="#5a4c22" stroke-width="1.04"/>
<polyline points="199.2,502.9 279.9,541.3" fill="none" stroke="#e6d596" stroke-width="1.30"/>
<polygon points="289.7,539.5 295.4,542.9 298.3,596.6 296.5,597.9 294.1,596.3 292.0,546.0" fill="#c6c6c6"/>
<polyline points="295.4,543.2 297.0,559.1 298.5,596.3" fill="none" stroke="#161616" stroke-width="0.91"/>
</g>
<!-- module SR -->
<g stroke-linejoin="round" stroke-linecap="round">
<polygon points="1045.1,202.8 1049.4,199.9 1049.6,219.6 1045.4,224.5" fill="#7d7d7d" stroke="#161616" stroke-width="1.05"/>
<polygon points="1040.2,207.5 1045.1,202.8 1045.4,224.5 1042.1,229.4 1040.5,228.2" fill="#868686" stroke="#161616" stroke-width="1.05"/>
<polygon points="1035.9,212.2 1040.2,207.5 1040.5,231.9 1039.0,235.5 1036.2,234.4" fill="#7e7e7e" stroke="#161616" stroke-width="1.05"/>
<polygon points="1029.5,220.0 1035.9,212.2 1036.2,234.4 1032.9,240.5 1029.6,243.4" fill="#878787" stroke="#161616" stroke-width="1.05"/>
<polygon points="1029.2,218.0 1035.9,211.8 1036.8,213.0 1031.4,218.8" fill="#a2a2a2" stroke="#161616" stroke-width="0.60"/>
<polygon points="1004.2,198.7 1006.0,190.7 1010.9,186.4 1022.5,190.0 1023.1,191.8 1036.6,196.0 1048.8,199.5 1049.4,200.1 1045.1,202.8 1040.2,207.5 1036.6,211.8 1001.7,198.1" fill="#7c7c7c" stroke="#161616" stroke-width="1.05"/>
<polygon points="1006.0,190.7 1010.9,186.4 1022.5,190.0 1017.6,194.9 1007.8,191.9" fill="#8c8c8c" stroke="#161616" stroke-width="0.73"/>
<polygon points="1005.4,195.6 1007.8,191.9 1017.6,194.9 1012.1,201.0 1004.2,198.7" fill="#a6a6a6" stroke="#161616" stroke-width="0.73"/>
<polygon points="1023.1,191.8 1036.6,196.0 1032.9,200.9 1018.2,195.5" fill="#909090" stroke="#161616" stroke-width="0.73"/>
<polygon points="1017.6,195.5 1032.9,200.9 1028.6,207.0 1012.1,201.0" fill="#a6a6a6" stroke="#161616" stroke-width="0.73"/>
<polygon points="1036.6,196.0 1048.8,199.5 1045.1,202.8 1041.4,205.7 1032.9,201.5" fill="#8d8d8d" stroke="#161616" stroke-width="0.73"/>
<polygon points="1032.9,201.5 1041.4,205.7 1036.6,211.8 1028.6,207.0" fill="#a8a8a8" stroke="#161616" stroke-width="0.73"/>
<polygon points="951.6,297.5 1029.5,220.0 1029.6,243.4 953.0,320.6" fill="url(#gSide)" stroke="#161616" stroke-width="1.05"/>
<polygon points="952.8,297.0 1031.8,218.6 1032.0,224.8 953.5,303.9" fill="#9a9a9a" stroke="#161616" stroke-width="0.60"/>
<polyline points="953.5,305.7 991.6,264.6" fill="none" stroke="#161616" stroke-width="0.60"/>
<polygon points="923.4,322.5 951.6,297.5 953.0,320.6 924.2,346.7" fill="#8f8f8f" stroke="#161616" stroke-width="1.05"/>
<polygon points="929.2,320.7 947.6,304.2 949.3,305.3 950.2,320.9 930.9,338.6 929.8,337.8" fill="#7b7b7b" stroke="#161616" stroke-width="0.73"/>
<polygon points="929.8,320.6 947.3,304.9 948.7,308.5 931.1,324.1" fill="#47995f" stroke="#161616" stroke-width="0.73"/>
<polygon points="929.8,320.6 932.1,318.5 933.1,322.3 931.1,324.1" fill="#2f6a43" opacity="0.8"/>
<polygon points="946.0,306.1 947.3,304.9 948.7,308.5 947.5,309.6" fill="#6ab982" opacity="0.7"/>
<polygon points="929.6,324.2 937.6,321.5 937.9,323.7 929.9,328.3" fill="#b2b2b2" stroke="#161616" stroke-width="0.64"/>
<polygon points="939.4,317.9 947.9,310.9 948.4,312.8 939.8,320.5" fill="#a9a9a9" stroke="#161616" stroke-width="0.64"/>
<polygon points="939.2,320.9 949.2,314.9 949.5,317.5 939.6,322.8" fill="#9c9c9c" stroke="#161616" stroke-width="0.64"/>
<polyline points="940.1,319.4 947.7,313.5" fill="none" stroke="#e4e4e4" stroke-width="0.81"/>
<polygon points="930.3,331.1 937.9,325.9 938.3,328.1 931.0,333.5" fill="#b7a287" stroke="#161616" stroke-width="0.64"/>
<polygon points="930.3,331.1 932.0,330.0 932.6,332.4 931.0,333.5" fill="#5a4a38" opacity="0.7"/>
<polygon points="930.6,333.8 949.4,319.1 949.8,321.2 931.0,338.1" fill="#47995f" stroke="#161616" stroke-width="0.73"/>
<polygon points="947.4,320.6 949.4,319.1 949.8,321.2 948.1,322.6" fill="#6ab982" opacity="0.7"/>
<polygon points="909.4,280.3 951.6,297.5 1029.5,220.0 1028.0,219.5 1037.4,211.5 1000.7,197.6 1000.0,198.3 998.7,197.7" fill="url(#gTop)" stroke="#161616" stroke-width="1.05"/>
<polygon points="990.8,204.8 999.2,197.3 1000.6,198.1 992.5,205.5" fill="#a0a0a0" stroke="#161616" stroke-width="0.81"/>
<polygon points="947.0,295.6 958.0,284.5 1016.2,225.5 1023.7,216.9 1028.0,219.5 1029.5,220.0 951.6,297.5" fill="url(#gFade)"/>
<polygon points="909.4,280.3 920.8,284.9 932.0,273.5 989.7,214.5 1004.2,200.5 1000.0,198.3 998.7,197.7" fill="url(#gFade)"/>
<polygon points="909.4,280.3 951.6,297.5 1029.5,220.0 1028.0,219.5 1037.4,211.5 1000.7,197.6 1000.0,198.3 998.7,197.7" fill="none" stroke="#161616" stroke-width="1.05"/>
<polygon points="882.8,305.3 923.4,322.5 951.6,297.5 909.4,280.3" fill="url(#gFront)"/>
<clipPath id="SR_c33"><polygon points="882.8,305.3 923.4,322.5 951.6,297.5 909.4,280.3"/></clipPath>
<polygon points="882.8,305.3 923.4,322.5 951.6,297.5 909.4,280.3" fill="none" stroke="#cacaca" stroke-width="3.10" clip-path="url(#SR_c33)" opacity="0.75"/>
<polygon points="882.8,305.3 923.4,322.5 951.6,297.5 909.4,280.3" fill="none" stroke="#161616" stroke-width="1.05"/>
<polygon points="920.8,284.9 932.0,273.5 958.0,284.5 947.0,295.6" fill="#aaaaaa"/>
<clipPath id="SR_c37"><polygon points="920.8,284.9 932.0,273.5 958.0,284.5 947.0,295.6"/></clipPath>
<polygon points="920.8,284.9 932.0,273.5 958.0,284.5 947.0,295.6" fill="none" stroke="#c8c8c8" stroke-width="3.10" clip-path="url(#SR_c37)" opacity="0.75"/>
<polygon points="920.8,284.9 932.0,273.5 958.0,284.5 947.0,295.6" fill="none" stroke="#161616" stroke-width="0.81"/>
<polygon points="932.0,273.5 958.0,284.5 1016.2,225.5 989.7,214.5" fill="#929292" stroke="#161616" stroke-width="0.97"/>
<polygon points="933.6,273.7 958.1,284.0 1013.9,226.6 988.9,216.8" fill="url(#gGreenS)" stroke="#14261a" stroke-width="0.81"/>
<polygon points="933.6,273.7 940.7,276.7 957.2,259.1 950.5,256.3" fill="#58b373" opacity="0.3"/>
<polygon points="988.9,216.8 1013.9,226.6 1011.3,229.3 986.3,219.6" fill="#2a7a45" opacity="0.45"/>
<polygon points="933.6,273.7 934.7,274.1 990.1,217.1 988.9,216.8" fill="#2a7a45" opacity="0.45"/>
<polygon points="984.8,226.2 991.1,228.7 985.6,236.0 979.3,233.3" fill="#2e7446" opacity="0.6"/>
<polygon points="992.2,229.6 998.5,232.2 992.9,239.3 987.0,236.8" fill="#2e7446" opacity="0.6"/>
<polygon points="999.6,233.1 1005.5,235.6 1000.1,242.0 994.2,239.5" fill="#2e7446" opacity="0.6"/>
<polygon points="987.7,223.9 1008.5,232.8 1007.3,234.4 986.5,225.6" fill="#58b473" opacity="0.45"/>
<polyline points="944.0,268.1 966.3,253.7" fill="none" stroke="#72c389" stroke-width="1.05" opacity="0.6"/>
<polyline points="947.1,270.1 969.3,254.9" fill="none" stroke="#72c389" stroke-width="1.05" opacity="0.6"/>
<polyline points="950.1,272.0 972.2,256.2" fill="none" stroke="#72c389" stroke-width="1.05" opacity="0.6"/>
<polyline points="953.1,273.9 975.2,257.4" fill="none" stroke="#72c389" stroke-width="1.05" opacity="0.6"/>
<polyline points="956.2,275.8 978.1,258.6" fill="none" stroke="#72c389" stroke-width="1.05" opacity="0.6"/>
<polyline points="959.2,277.7 981.1,259.8" fill="none" stroke="#72c389" stroke-width="1.05" opacity="0.6"/>
<polyline points="944.0,268.1 959.2,277.7" fill="none" stroke="#72c389" stroke-width="1.05" opacity="0.6"/>
<polyline points="947.7,265.7 962.9,274.7" fill="none" stroke="#72c389" stroke-width="1.05" opacity="0.6"/>
<polyline points="951.5,263.3 966.5,271.8" fill="none" stroke="#72c389" stroke-width="1.05" opacity="0.6"/>
<polyline points="955.2,260.9 970.1,268.8" fill="none" stroke="#72c389" stroke-width="1.05" opacity="0.6"/>
<polyline points="958.9,258.5 973.8,265.8" fill="none" stroke="#72c389" stroke-width="1.05" opacity="0.6"/>
<polyline points="962.6,256.1 977.4,262.8" fill="none" stroke="#72c389" stroke-width="1.05" opacity="0.6"/>
<polyline points="966.3,253.7 981.1,259.8" fill="none" stroke="#72c389" stroke-width="1.05" opacity="0.6"/>
<polygon points="944.0,268.1 959.2,277.7 981.1,259.8 966.3,253.7" fill="#5ab877" opacity="0.25"/>
<polygon points="902.3,344.4 923.4,322.5 924.2,346.7 903.1,366.2" fill="url(#gCside)" stroke="#161616" stroke-width="1.05"/>
<polygon points="861.7,327.2 862.5,324.7 863.9,323.2 882.8,305.3 923.4,322.5 902.4,344.1 901.2,343.8" fill="#a5a5a5" stroke="#161616" stroke-width="1.05"/>
<polygon points="861.9,327.0 862.9,324.9 901.7,342.7 902.4,344.3 901.1,344.0" fill="#bdbdbd" opacity="0.9"/>
<polygon points="862.1,326.5 862.9,324.6 864.2,323.2 882.7,305.5 883.7,306.2 865.7,324.2 864.5,325.9 864.1,327.6" fill="#bebebe" opacity="0.9"/>
<polygon points="884.0,308.8 917.3,323.0 898.6,343.5 866.4,328.9" fill="#989898" stroke="#161616" stroke-width="0.81"/>
<polygon points="884.0,308.8 917.3,323.0 914.8,325.9 882.3,312.0" fill="#7e7e7e" stroke="#161616" stroke-width="0.60"/>
<polygon points="884.0,308.8 882.3,312.0 868.0,327.3 866.4,328.9" fill="#b0b0b0" stroke="#161616" stroke-width="0.60"/>
<polygon points="914.8,325.9 917.3,323.0 898.6,343.5 896.8,344.4" fill="#a8a8a8" stroke="#161616" stroke-width="0.60"/>
<polygon points="883.5,316.6 886.4,317.9 873.0,331.5 869.3,330.2" fill="url(#gGold)" stroke="#5a4c22" stroke-width="0.64"/>
<polygon points="908.5,327.9 911.4,329.4 896.8,344.4 893.6,342.7" fill="url(#gGold)" stroke="#5a4c22" stroke-width="0.64"/>
<polygon points="888.8,315.5 910.1,324.6 892.9,341.4 873.0,331.5" fill="#b9b9b9" stroke="#161616" stroke-width="0.73"/>
<polygon points="880.7,313.7 883.0,311.3 885.1,312.2 884.1,314.6 881.9,315.4" fill="#b0b0b0" stroke="#161616" stroke-width="0.64"/>
<polygon points="902.5,344.2 923.3,322.6 922.1,321.6 901.2,343.3" fill="#c2c2c2" opacity="0.85"/>
<polygon points="861.7,327.2 901.6,344.3 902.4,345.0 903.2,366.2 865.6,347.5 864.5,346.0" fill="#a0a0a0" stroke="#161616" stroke-width="1.05"/>
<polygon points="899.1,343.4 902.0,345.5 903.7,365.7 903.1,366.2 901.7,365.3 900.6,346.9" fill="#c4c4c4" opacity="0.9"/>
<polygon points="864.0,329.9 900.8,346.3 902.0,363.8 866.4,346.6" fill="#b4b4b4" stroke="#161616" stroke-width="0.73"/>
<polygon points="866.2,330.9 900.5,347.2 901.3,361.6 868.3,344.9" fill="url(#gDark)" stroke="#161616" stroke-width="0.73"/>
<polygon points="866.2,330.9 869.2,332.3 871.3,340.7 868.3,344.9" fill="#585858"/>
<polygon points="868.3,344.9 871.3,340.7 893.4,351.9 901.2,357.1 901.3,361.6" fill="#525252"/>
<polygon points="872.1,341.1 874.7,336.0 882.5,339.5 878.3,345.0" fill="#484848" stroke="#161616" stroke-width="0.64"/>
<polyline points="891.5,345.2 893.4,351.9 901.2,357.1" fill="none" stroke="#161616" stroke-width="0.64"/>
<polygon points="869.1,330.5 897.1,344.4 896.8,346.2 869.2,332.5" fill="#c6b071" stroke="#5a4c22" stroke-width="0.64"/>
<polyline points="869.3,331.2 896.9,345.2" fill="none" stroke="#e6d596" stroke-width="0.81"/>
<polygon points="900.2,344.4 902.1,345.7 903.7,365.7 903.2,366.2 902.3,365.6 901.0,346.9" fill="#c6c6c6"/>
<polyline points="902.1,345.8 902.9,351.7 903.8,365.6" fill="none" stroke="#161616" stroke-width="0.60"/>
</g>
<!-- module BR -->
<g stroke-linejoin="round" stroke-linecap="round">
<polygon points="1342.5,220.2 1353.0,211.8 1353.2,267.2 1342.1,281.5" fill="#858585" stroke="#161616" stroke-width="1.69"/>
<polyline points="1343.7,220.4 1343.5,279.0" fill="none" stroke="#3a3a3a" stroke-width="0.91"/>
<polygon points="1330.2,247.3 1342.5,220.2 1342.1,281.5 1337.6,285.4 1337.3,295.9 1335.6,297.4 1330.0,304.6" fill="#8e8e8e" stroke="#161616" stroke-width="1.69"/>
<polygon points="1327.7,247.5 1330.2,247.3 1330.0,304.6 1327.7,305.3" fill="#5e5e5e" stroke="#161616" stroke-width="0.91"/>
<polygon points="1305.6,262.0 1325.3,246.7 1327.7,247.5 1327.7,305.3 1326.9,313.3 1318.9,321.5 1316.2,319.6 1315.9,293.6 1314.6,294.2 1305.7,303.2" fill="#8c8c8c" stroke="#161616" stroke-width="1.69"/>
<polygon points="1302.9,261.5 1322.9,243.4 1326.4,246.2 1307.3,264.8" fill="#a4a4a4" stroke="#161616" stroke-width="1.17"/>
<polyline points="1310.1,265.7 1325.3,251.5" fill="none" stroke="#444" stroke-width="1.04"/>
<polygon points="1305.7,303.2 1314.6,294.8 1315.2,319.9 1307.7,330.7 1305.8,332.7" fill="#8d8d8d" stroke="#161616" stroke-width="1.17"/>
<polyline points="1314.6,295.5 1315.1,319.2" fill="none" stroke="#d8d8d8" stroke-width="1.30"/>
<polygon points="1226.6,202.0 1232.1,186.1 1236.9,178.1 1245.7,169.9 1276.8,180.4 1279.2,184.0 1316.7,198.8 1319.8,197.6 1351.7,209.9 1352.5,212.3 1343.0,221.0 1330.2,247.3 1323.8,243.9" fill="#888888" stroke="#161616" stroke-width="1.69"/>
<polygon points="1226.6,202.0 1232.1,186.1 1236.9,178.4 1240.9,182.4 1235.3,190.9 1228.2,201.7" fill="#818181" stroke="#161616" stroke-width="1.04"/>
<polygon points="1236.9,178.4 1245.7,169.9 1276.8,180.4 1266.4,191.2 1240.9,182.4" fill="#989898" stroke="#161616" stroke-width="1.69"/>
<polygon points="1266.4,191.2 1276.8,180.4 1279.2,184.0 1262.4,194.3 1260.8,192.2" fill="#797979" stroke="#161616" stroke-width="1.04"/>
<polygon points="1240.9,182.4 1260.8,192.2 1255.3,198.5 1235.3,190.9" fill="#a8a8a8" stroke="#161616" stroke-width="1.17"/>
<polygon points="1235.3,190.9 1255.3,198.5 1248.9,209.6 1228.2,201.7" fill="#b8b8b8" stroke="#161616" stroke-width="1.17"/>
<polygon points="1279.2,184.0 1316.7,198.8 1307.9,208.3 1268.0,192.6" fill="#9c9c9c" stroke="#161616" stroke-width="1.69"/>
<polygon points="1268.0,192.6 1307.9,208.3 1307.1,211.5 1262.4,194.3" fill="#808080" stroke="#161616" stroke-width="1.04"/>
<polygon points="1262.4,194.3 1307.1,211.5 1298.3,230.6 1248.9,209.6 1255.3,198.5" fill="#b0b0b0" stroke="#161616" stroke-width="1.17"/>
<polygon points="1316.7,198.8 1319.8,197.6 1351.7,209.9 1352.2,212.6 1343.0,220.5 1332.6,219.7 1308.7,210.2" fill="#999999" stroke="#161616" stroke-width="1.69"/>
<polygon points="1308.7,210.2 1332.6,219.7 1325.4,228.7 1306.3,220.8" fill="#aaaaaa" stroke="#161616" stroke-width="1.17"/>
<polygon points="1306.3,220.8 1325.4,228.7 1320.6,239.9 1298.3,230.6" fill="#b8b8b8" stroke="#161616" stroke-width="1.17"/>
<polygon points="1332.6,219.7 1339.5,218.8 1338.2,231.3 1330.2,241.6 1320.6,239.9 1325.4,228.7" fill="#929292" stroke="#161616" stroke-width="1.17"/>
<polygon points="1330.2,231.2 1336.6,232.1 1333.4,240.9 1328.6,239.2" fill="#a8a8a8" stroke="#161616" stroke-width="1.04"/>
<polyline points="1243.3,172.6 1246.5,173.1 1247.6,171.6" fill="none" stroke="#161616" stroke-width="1.04"/>
<polyline points="1343.8,212.5 1347.0,211.9 1348.1,213.2" fill="none" stroke="#161616" stroke-width="1.04"/>
<polygon points="1220.5,202.9 1223.1,200.7 1325.7,241.2 1324.2,243.9" fill="#8e8e8e"/>
<polyline points="1223.1,200.7 1325.7,241.2" fill="none" stroke="#161616" stroke-width="1.04"/>
<polygon points="1134.4,451.0 1305.6,262.0 1305.8,332.7 1305.8,342.8 1140.8,524.9 1134.5,524.4" fill="url(#gSide)" stroke="#161616" stroke-width="1.69"/>
<polygon points="1135.5,452.2 1305.6,262.0 1303.7,274.9 1203.4,387.3 1138.2,459.8" fill="#a4a4a4" stroke="#161616" stroke-width="1.04"/>
<polygon points="1204.3,411.9 1305.7,303.2 1305.8,332.7 1305.8,342.8 1206.2,451.9" fill="#8f8f8f" stroke="#161616" stroke-width="1.30"/>
<polyline points="1204.2,408.4 1303.3,300.0" fill="none" stroke="#161616" stroke-width="1.30"/>
<polygon points="1130.2,461.1 1135.6,453.5 1195.6,393.3 1203.1,399.6 1204.2,444.7 1188.2,458.0 1134.3,519.0 1131.1,517.3" fill="#939393" stroke="#161616" stroke-width="1.69"/>
<polygon points="1130.2,461.1 1135.6,453.5 1195.6,393.3 1203.1,399.6 1198.3,404.6 1137.5,464.0" fill="#b2b2b2" stroke="#161616" stroke-width="1.17"/>
<polygon points="1187.1,420.9 1203.1,408.4 1204.2,444.7 1188.2,458.0" fill="#949494" stroke="#161616" stroke-width="1.30"/>
<polyline points="1133.0,491.5 1187.1,443.4" fill="none" stroke="#161616" stroke-width="1.30"/>
<polyline points="1133.8,493.5 1187.1,445.9" fill="none" stroke="#161616" stroke-width="1.04"/>
<polygon points="1063.0,531.3 1134.4,451.0 1134.5,523.5 1066.5,595.0" fill="#8f8f8f" stroke="#161616" stroke-width="1.69"/>
<polygon points="1077.7,524.0 1124.0,471.9 1127.8,475.3 1128.2,523.7 1082.3,572.7 1079.5,570.6" fill="#7b7b7b" stroke="#161616" stroke-width="1.17"/>
<polygon points="1079.3,523.5 1123.2,474.2 1126.1,485.2 1082.5,532.6" fill="#47995f" stroke="#161616" stroke-width="1.17"/>
<polygon points="1079.3,523.5 1085.1,516.9 1087.5,527.2 1082.5,532.6" fill="#2f6a43" opacity="0.8"/>
<polygon points="1119.9,477.9 1123.2,474.2 1126.1,485.2 1123.2,488.6" fill="#6ab982" opacity="0.7"/>
<polygon points="1078.8,533.4 1098.6,524.3 1099.2,530.6 1079.7,544.7" fill="#b2b2b2" stroke="#161616" stroke-width="1.04"/>
<polygon points="1102.9,513.6 1124.0,492.7 1124.8,498.4 1103.9,521.2" fill="#a9a9a9" stroke="#161616" stroke-width="1.04"/>
<polygon points="1102.4,522.3 1126.5,504.9 1127.0,513.0 1103.2,527.9" fill="#9c9c9c" stroke="#161616" stroke-width="1.04"/>
<polyline points="1104.6,518.1 1123.2,500.4" fill="none" stroke="#e4e4e4" stroke-width="1.30"/>
<polygon points="1080.8,552.2 1099.1,537.0 1099.9,543.3 1082.4,558.9" fill="#b7a287" stroke="#161616" stroke-width="1.04"/>
<polygon points="1080.8,552.2 1084.9,548.9 1086.2,555.5 1082.4,558.9" fill="#5a4a38" opacity="0.7"/>
<polygon points="1081.6,559.6 1126.5,517.8 1127.2,524.3 1082.5,571.4" fill="#47995f" stroke="#161616" stroke-width="1.17"/>
<polygon points="1121.8,522.0 1126.5,517.8 1127.2,524.3 1123.2,528.2" fill="#6ab982" opacity="0.7"/>
<polygon points="1128.3,466.9 1130.4,465.3 1137.1,457.9 1143.9,466.9 1144.2,489.8 1132.4,493.6 1129.1,492.2" fill="#a6a6a6" stroke="#161616" stroke-width="1.17"/>
<polygon points="1129.1,493.3 1132.4,494.5 1144.2,490.7 1144.3,515.3 1142.6,522.6 1138.2,525.4 1132.1,521.0 1129.4,519.8" fill="#a2a2a2" stroke="#161616" stroke-width="1.17"/>
<polyline points="1132.4,468.5 1132.4,493.2" fill="none" stroke="#161616" stroke-width="0.91"/>
<polyline points="1132.4,494.8 1132.5,520.7" fill="none" stroke="#161616" stroke-width="0.91"/>
<polyline points="1135.1,468.5 1140.5,471.8 1143.2,469.5" fill="none" stroke="#161616" stroke-width="0.91"/>
<polygon points="1136.5,515.3 1138.9,514.2 1140.9,516.0 1139.2,518.2 1136.8,517.5" fill="#b4b4b4" stroke="#161616" stroke-width="0.78"/>
<polyline points="1147.2,464.5 1157.4,458.1" fill="none" stroke="#c4c4c4" stroke-width="1.82"/>
<polygon points="1020.6,400.6 1134.4,451.0 1305.6,262.0 1300.0,262.1 1324.6,244.4 1219.5,202.0 1217.8,203.7 1214.3,202.1" fill="url(#gTop)" stroke="#161616" stroke-width="1.69"/>
<polygon points="1197.1,219.0 1215.5,201.0 1219.5,203.2 1201.8,221.0" fill="#a0a0a0" stroke="#161616" stroke-width="1.30"/>
<polygon points="1118.8,440.6 1140.0,415.0 1269.8,273.8 1287.8,254.8 1300.0,262.1 1305.6,262.0 1134.4,451.0" fill="url(#gFade)"/>
<polygon points="1020.6,400.6 1038.4,407.8 1064.4,383.8 1194.8,245.0 1229.8,210.0 1217.8,203.7 1214.3,202.1" fill="url(#gFade)"/>
<polygon points="1020.6,400.6 1134.4,451.0 1305.6,262.0 1300.0,262.1 1324.6,244.4 1219.5,202.0 1217.8,203.7 1214.3,202.1" fill="none" stroke="#161616" stroke-width="1.69"/>
<polygon points="946.3,478.4 1063.0,531.3 1134.4,451.0 1020.6,400.6" fill="url(#gFront)"/>
<clipPath id="BR_c61"><polygon points="946.3,478.4 1063.0,531.3 1134.4,451.0 1020.6,400.6"/></clipPath>
<polygon points="946.3,478.4 1063.0,531.3 1134.4,451.0 1020.6,400.6" fill="none" stroke="#cacaca" stroke-width="5.00" clip-path="url(#BR_c61)" opacity="0.75"/>
<polygon points="946.3,478.4 1063.0,531.3 1134.4,451.0 1020.6,400.6" fill="none" stroke="#161616" stroke-width="1.69"/>
<polygon points="1038.4,407.8 1064.4,383.8 1140.0,415.0 1118.8,440.6" fill="#aaaaaa"/>
<clipPath id="BR_c65"><polygon points="1038.4,407.8 1064.4,383.8 1140.0,415.0 1118.8,440.6"/></clipPath>
<polygon points="1038.4,407.8 1064.4,383.8 1140.0,415.0 1118.8,440.6" fill="none" stroke="#c8c8c8" stroke-width="5.00" clip-path="url(#BR_c65)" opacity="0.75"/>
<polygon points="1038.4,407.8 1064.4,383.8 1140.0,415.0 1118.8,440.6" fill="none" stroke="#161616" stroke-width="1.30"/>
<polygon points="1064.4,383.8 1140.0,415.0 1269.8,273.8 1194.8,245.0" fill="#929292" stroke="#161616" stroke-width="1.56"/>
<polygon points="1069.0,384.5 1140.0,413.8 1263.9,276.3 1193.6,250.6" fill="url(#gGreen)" stroke="#14261a" stroke-width="1.30"/>
<polygon points="1069.0,384.5 1089.4,392.9 1126.1,351.3 1106.9,343.5" fill="#58b373" opacity="0.3"/>
<polygon points="1193.6,250.6 1263.9,276.3 1258.2,282.7 1187.7,257.0" fill="#2a7a45" opacity="0.45"/>
<polygon points="1069.0,384.5 1072.0,385.7 1196.8,251.5 1193.6,250.6" fill="#2a7a45" opacity="0.45"/>
<polygon points="1174.6,267.4 1250.4,296.5 1247.9,300.2 1172.0,271.0" fill="#4fae6b" opacity="0.35"/>
<polygon points="1189.0,272.2 1204.7,278.3 1189.6,296.3 1174.0,289.0" fill="#3b7050" opacity="0.9"/>
<polygon points="1209.5,280.7 1225.2,286.8 1208.8,303.7 1194.4,297.6" fill="#3b7050" opacity="0.9"/>
<polygon points="1230.0,289.2 1245.6,295.3 1231.7,312.2 1214.9,304.9" fill="#3b7050" opacity="0.9"/>
<polyline points="1170.3,290.2 1232.9,314.2" fill="none" stroke="#58b473" stroke-width="1.82" opacity="0.45"/>
<polygon points="1123.2,336.8 1139.2,341.7 1126.6,357.1 1110.6,351.4" fill="none" stroke="#72c389" stroke-width="2.34" opacity="0.9"/>
<polygon points="1125.7,340.9 1134.4,343.7 1125.4,353.0 1116.7,350.2" fill="#2e7446" opacity="0.7"/>
<polygon points="1151.6,335.1 1174.3,342.8 1168.7,349.4 1146.0,341.8" fill="none" stroke="#72c389" stroke-width="2.34" opacity="0.9"/>
<polygon points="1154.9,338.5 1168.9,343.4 1166.8,346.7 1152.1,341.9" fill="#2e7446" opacity="0.7"/>
<polygon points="1175.6,345.5 1193.7,351.0 1188.8,358.4 1171.4,352.2" fill="none" stroke="#72c389" stroke-width="2.34" opacity="0.9"/>
<polygon points="1178.9,348.9 1188.9,351.9 1186.8,355.7 1176.1,352.2" fill="#2e7446" opacity="0.7"/>
<polygon points="1138.3,350.1 1159.1,357.0 1154.9,362.1 1134.1,355.1" fill="none" stroke="#72c389" stroke-width="2.08" opacity="0.9"/>
<polygon points="1140.2,353.2 1155.6,358.1 1154.2,360.1 1138.8,355.2" fill="#2e7446" opacity="0.7"/>
<polygon points="1132.7,357.5 1152.1,363.7 1148.6,368.1 1129.2,361.8" fill="none" stroke="#72c389" stroke-width="2.08" opacity="0.9"/>
<polygon points="1164.5,354.1 1184.6,361.1 1181.1,366.5 1161.0,359.8" fill="none" stroke="#72c389" stroke-width="2.08" opacity="0.9"/>
<polygon points="1166.5,357.1 1181.2,362.0 1179.8,364.0 1165.1,359.1" fill="#2e7446" opacity="0.7"/>
<polygon points="1159.6,362.2 1179.0,368.5 1175.4,375.2 1155.4,368.2" fill="none" stroke="#72c389" stroke-width="2.08" opacity="0.9"/>
<polygon points="1161.5,365.2 1176.3,369.8 1174.1,372.8 1159.4,367.9" fill="#2e7446" opacity="0.7"/>
<polygon points="1105.1,354.7 1118.4,359.6 1107.2,375.0 1093.8,369.4" fill="none" stroke="#72c389" stroke-width="2.34" opacity="0.9"/>
<polygon points="1107.6,359.5 1114.3,361.6 1105.9,371.6 1099.9,369.5" fill="#2e7446" opacity="0.7"/>
<polygon points="1122.4,361.7 1138.5,367.3 1128.6,382.8 1111.9,376.4" fill="none" stroke="#72c389" stroke-width="2.34" opacity="0.9"/>
<polygon points="1123.6,367.1 1132.3,370.0 1124.6,379.3 1117.3,376.5" fill="#2e7446" opacity="0.7"/>
<polygon points="1150.5,373.6 1165.2,378.5 1151.9,393.9 1137.2,388.3" fill="none" stroke="#72c389" stroke-width="2.34" opacity="0.9"/>
<polygon points="1151.7,378.3 1159.0,380.5 1150.0,390.5 1143.3,387.7" fill="#2e7446" opacity="0.7"/>
<polygon points="1139.7,371.4 1143.7,372.8 1142.3,375.5 1138.3,374.1" fill="#72c389" opacity="0.85"/>
<polygon points="1131.4,378.1 1136.8,380.2 1133.2,386.2 1127.9,384.1" fill="#72c389" opacity="0.85"/>
<polygon points="1119.0,387.3 1123.0,388.8 1115.3,398.8 1111.3,397.4" fill="#72c389" opacity="0.6"/>
<polygon points="1125.6,391.5 1140.3,396.5 1137.4,405.3 1116.0,398.1" fill="none" stroke="#72c389" stroke-width="1.95" opacity="0.9"/>
<polygon points="1122.7,397.6 1136.1,401.9 1134.7,404.1 1120.6,400.3" fill="#2e7446" opacity="0.7"/>
<polygon points="1006.0,593.5 1063.0,531.3 1066.5,595.0 1007.5,655.0" fill="url(#gCside)" stroke="#161616" stroke-width="1.69"/>
<polygon points="887.6,541.9 889.6,534.8 893.4,530.2 946.3,478.4 1063.0,531.3 1006.3,592.7 1002.7,591.8" fill="#a5a5a5" stroke="#161616" stroke-width="1.69"/>
<polygon points="888.1,541.5 890.8,535.3 1004.1,588.5 1006.3,593.1 1002.6,592.3" fill="#bdbdbd" opacity="0.9"/>
<polygon points="888.7,540.0 890.8,534.4 894.4,530.2 946.0,478.9 948.9,481.1 898.7,533.2 895.5,538.4 894.4,543.1" fill="#bebebe" opacity="0.9"/>
<polygon points="949.9,488.7 1045.8,532.4 995.4,590.6 901.2,547.2" fill="#989898" stroke="#161616" stroke-width="1.30"/>
<polygon points="949.9,488.7 1045.8,532.4 1039.1,540.6 945.4,498.1" fill="#7e7e7e" stroke="#161616" stroke-width="0.91"/>
<polygon points="949.9,488.7 945.4,498.1 905.6,542.5 901.2,547.2" fill="#b0b0b0" stroke="#161616" stroke-width="0.91"/>
<polygon points="1039.1,540.6 1045.8,532.4 995.4,590.6 990.3,593.4" fill="#a8a8a8" stroke="#161616" stroke-width="0.91"/>
<polygon points="949.1,511.8 957.6,515.6 920.4,555.0 909.6,551.0" fill="url(#gGold)" stroke="#5a4c22" stroke-width="1.04"/>
<polygon points="1021.5,546.2 1029.9,550.7 990.3,593.4 980.8,588.2" fill="url(#gGold)" stroke="#5a4c22" stroke-width="1.04"/>
<polygon points="964.0,508.6 1025.7,536.7 978.6,584.5 920.4,555.0" fill="#b9b9b9" stroke="#161616" stroke-width="1.17"/>
<polygon points="940.8,503.2 947.2,496.2 953.3,498.8 950.6,505.9 944.3,508.0" fill="#b0b0b0" stroke="#161616" stroke-width="1.04"/>
<polygon points="1006.4,593.0 1062.8,531.5 1059.1,528.6 1002.7,590.3" fill="#c2c2c2" opacity="0.85"/>
<polygon points="887.6,541.9 1003.9,593.1 1006.3,595.1 1007.9,654.9 896.0,597.7 892.9,593.4" fill="#a0a0a0" stroke="#161616" stroke-width="1.69"/>
<polygon points="996.7,590.4 1005.0,596.5 1009.2,653.5 1007.4,654.9 1003.4,652.1 1000.9,600.3" fill="#c4c4c4" opacity="0.9"/>
<polygon points="894.0,549.5 1001.6,598.8 1004.2,648.0 898.5,595.2" fill="#b4b4b4" stroke="#161616" stroke-width="1.17"/>
<polygon points="900.5,552.6 1000.5,601.3 1002.4,641.7 904.6,591.1" fill="url(#gDark)" stroke="#161616" stroke-width="1.17"/>
<polygon points="900.5,552.6 909.1,556.8 914.3,579.9 904.6,591.1" fill="#585858"/>
<polygon points="904.6,591.1 914.3,579.9 979.2,613.6 1002.2,629.1 1002.4,641.7" fill="#525252"/>
<polygon points="916.7,581.2 925.1,567.6 947.8,578.0 934.7,592.8" fill="#484848" stroke="#161616" stroke-width="1.04"/>
<polyline points="974.2,594.7 979.2,613.6 1002.2,629.1" fill="none" stroke="#161616" stroke-width="1.04"/>
<polygon points="909.1,551.8 990.8,593.2 989.7,598.2 909.1,557.3" fill="#c6b071" stroke="#5a4c22" stroke-width="1.04"/>
<polyline points="909.6,553.8 990.1,595.2" fill="none" stroke="#e6d596" stroke-width="1.30"/>
<polygon points="999.8,593.4 1005.5,597.1 1009.5,653.5 1007.7,654.9 1005.3,653.2 1002.2,600.3" fill="#c6c6c6"/>
<polyline points="1005.5,597.4 1007.4,614.1 1009.7,653.3" fill="none" stroke="#161616" stroke-width="0.91"/>
</g>
<line x1="327.5" y1="168.2" x2="449.0" y2="168.2" stroke="#161616" stroke-width="1.50"/>
<polygon points="451.5,168.2 446,165.8 446,170.6" fill="#161616"/>
<text x="169.2" y="223.4" font-size="29.5" text-anchor="start" >di</text>
<polyline points="200.5,212.0 208.3,212.0 208.3,243.0" fill="none" stroke="#161616" stroke-width="1.50"/>
<text x="113.3" y="266.4" font-size="28.7" text-anchor="start" >ndc</text>
<polyline points="161.3,254.5 166.8,254.5 166.8,304.5" fill="none" stroke="#161616" stroke-width="1.50"/>
<line x1="1060.0" y1="201.2" x2="1214.0" y2="201.2" stroke="#161616" stroke-width="1.50"/>
<polygon points="1057.5,201.2 1063,198.8 1063,203.6" fill="#161616"/>
<g transform="translate(938.79 161.40) scale(1 1.030)"><path d="M763 0H583V1147Q518 1085 412.5 1023T223 930V1104Q373 1174.5 485.5 1275T645 1470H763Z" transform="translate(0.00 0) scale(0.01348 -0.01348)" fill="#0b0b0b" stroke="#0b0b0b" stroke-width="0.35" vector-effect="non-scaling-stroke"/><text x="14.24" y="0" font-size="27.6">0</text></g>
<polyline points="937.5,152.0 933.0,152.0 933.0,272.5" fill="none" stroke="#161616" stroke-width="1.50"/>
<polyline points="973.0,145.0 977.5,145.0 977.5,215.0" fill="none" stroke="#161616" stroke-width="1.50"/>
<text x="890.8" y="240.2" font-size="28.8" text-anchor="start" >di</text>
<polyline points="922.5,232.5 930.0,232.5 930.0,275.0" fill="none" stroke="#161616" stroke-width="1.50"/>
<text x="838.0" y="271.4" font-size="28.5" text-anchor="start" >ndic</text>
<polyline points="893.8,261.3 898.8,261.3 898.8,322.0" fill="none" stroke="#161616" stroke-width="1.50"/>
</svg>
</body></html>
